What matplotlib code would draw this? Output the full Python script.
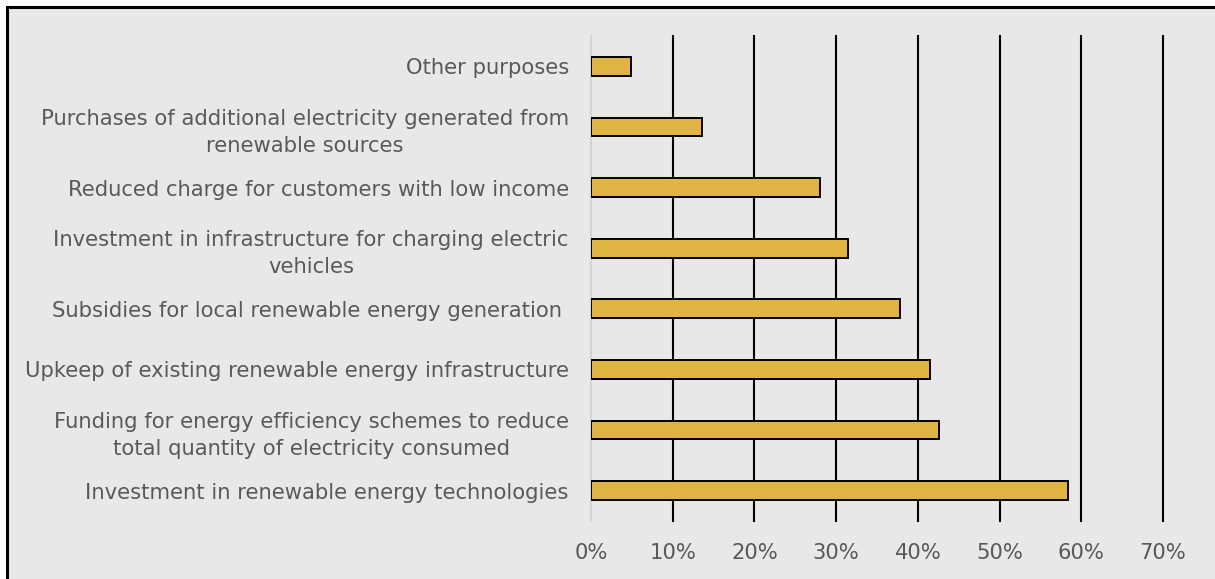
import matplotlib
matplotlib.use("Agg")
import matplotlib.pyplot as plt
from matplotlib.patches import Rectangle
from matplotlib.ticker import PercentFormatter

# categories, top to bottom as shown
categories = [
    "Other purposes",
    "Purchases of additional electricity generated from\nrenewable sources",
    "Reduced charge for customers with low income",
    "Investment in infrastructure for charging electric\nvehicles",
    "Subsidies for local renewable energy generation ",
    "Upkeep of existing renewable energy infrastructure",
    "Funding for energy efficiency schemes to reduce\ntotal quantity of electricity consumed",
    "Investment in renewable energy technologies",
]
shares = [0.049, 0.136, 0.280, 0.314, 0.378, 0.415, 0.426, 0.584]
xticks = [0, 0.1, 0.2, 0.3, 0.4, 0.5, 0.6, 0.7]

plt.rcParams['font.family'] = ['DejaVu Sans']
text_col = "#595959"

fig = plt.figure(figsize=(12.15, 5.79), dpi=100)
fig.patch.set_facecolor("white")
# grey panel with black frame (right/bottom run off the image)
fig.add_artist(Rectangle((7 / 1215, -0.05), 1.2, 1 - 7 / 579 + 0.05,
                         transform=fig.transFigure, facecolor="#e8e8e8",
                         edgecolor="black", lw=2.2, zorder=0))

ax = fig.add_axes([591 / 1215, 1 - 521 / 579, 572 / 1215, 485 / 579])
ax.set_facecolor("none")

ypos = list(range(len(categories)))
ax.barh(ypos, shares, height=0.31, color="#dfb443", edgecolor="black",
        linewidth=1.4, zorder=3)

ax.set_ylim(len(categories) - 0.5, -0.5)
ax.set_xlim(0, 0.7)
ax.set_xticks(xticks)
ax.xaxis.set_major_formatter(PercentFormatter(1.0, decimals=0))
ax.grid(axis="x", color="black", linewidth=1.5, zorder=1)
for gl in ax.xaxis.get_gridlines():
    gl.set_clip_on(False)
ax.xaxis.get_gridlines()[0].set_color("#d4d4d4")
ax.set_axisbelow(True)

ax.set_yticks(ypos)
ax.set_yticklabels(categories, ha="right", multialignment="center",
                   linespacing=1.45)
for s in ax.spines.values():
    s.set_visible(False)
ax.tick_params(axis="y", length=0, pad=16, labelsize=15.2, labelcolor=text_col)
ax.tick_params(axis="x", length=0, pad=16, labelsize=15.2, labelcolor=text_col)

fig.savefig("out.png", dpi=100)
